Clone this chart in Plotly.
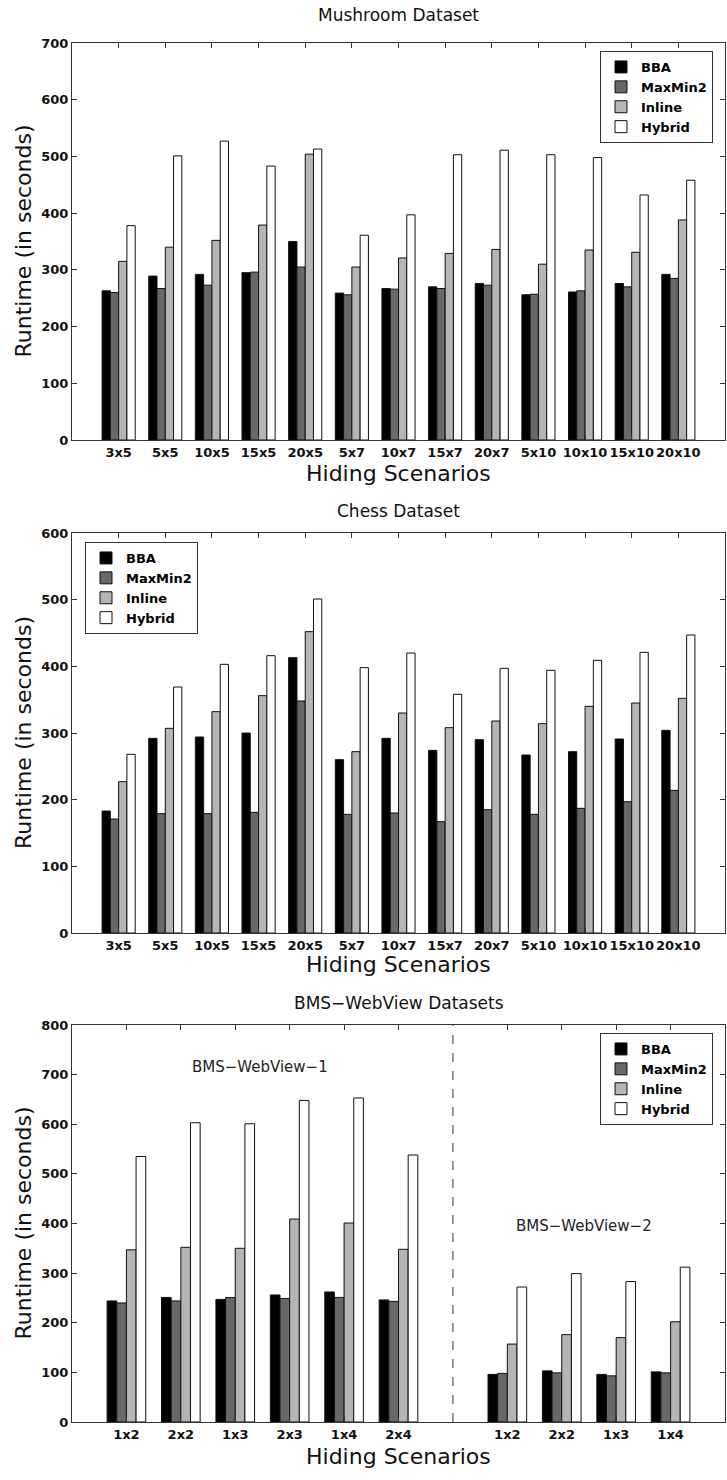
import plotly.graph_objects as go

# ---------------- data ----------------
series_names = ["BBA", "MaxMin2", "Inline", "Hybrid"]
series_colors = ["#000000", "#686868", "#b5b5b5", "#ffffff"]

mush_labels = ["3x5", "5x5", "10x5", "15x5", "20x5", "5x7", "10x7", "15x7", "20x7",
               "5x10", "10x10", "15x10", "20x10"]
mush_bba = [263, 289, 292, 295, 350, 259, 267, 270, 276, 256, 261, 276, 292]
mush_maxmin2 = [260, 267, 273, 296, 305, 256, 266, 267, 273, 257, 263, 270, 285]
mush_inline = [315, 340, 352, 379, 504, 305, 321, 329, 336, 310, 335, 331, 388]
mush_hybrid = [378, 501, 527, 483, 513, 361, 397, 503, 511, 503, 498, 432, 458]

chess_labels = ["3x5", "5x5", "10x5", "15x5", "20x5", "5x7", "10x7", "15x7", "20x7",
                "5x10", "10x10", "15x10", "20x10"]
chess_bba = [183, 292, 294, 300, 413, 260, 292, 274, 290, 267, 272, 291, 304]
chess_maxmin2 = [171, 179, 179, 181, 348, 178, 180, 167, 185, 178, 187, 197, 214]
chess_inline = [227, 307, 332, 356, 452, 272, 330, 308, 318, 314, 340, 345, 352]
chess_hybrid = [268, 369, 403, 416, 501, 398, 420, 358, 397, 394, 409, 421, 447]

bms1_labels = ["1x2", "2x2", "1x3", "2x3", "1x4", "2x4"]
bms1_bba = [244, 251, 247, 256, 262, 246]
bms1_maxmin2 = [240, 244, 251, 249, 251, 243]
bms1_inline = [347, 352, 350, 409, 401, 348]
bms1_hybrid = [535, 603, 601, 648, 653, 538]

bms2_labels = ["1x2", "2x2", "1x3", "1x4"]
bms2_bba = [96, 103, 96, 101]
bms2_maxmin2 = [98, 99, 93, 99]
bms2_inline = [157, 176, 170, 202]
bms2_hybrid = [272, 299, 283, 312]

mush_ticks = [0, 100, 200, 300, 400, 500, 600, 700]
chess_ticks = [0, 100, 200, 300, 400, 500, 600]
bms_ticks = [0, 100, 200, 300, 400, 500, 600, 700, 800]

# ---------------- geometry (pixels) ----------------
W, H = 727, 1480
PL, PR = 72, 725


def ydom(top, bottom):
    return [1 - bottom / H, 1 - top / H]


def px_y(y):
    return 1 - y / H


FONT = "DejaVu Sans"

fig = go.Figure()

# positions for the BMS chart (two groups separated by a gap)
bms1_pos = [i + 1 for i in range(len(bms1_labels))]
divider_pos = len(bms1_labels) + 1
bms2_pos = [divider_pos + 1 + i for i in range(len(bms2_labels))]
bms_pos = bms1_pos + bms2_pos
bms_labels = bms1_labels + bms2_labels

mush_series = [mush_bba, mush_maxmin2, mush_inline, mush_hybrid]
chess_series = [chess_bba, chess_maxmin2, chess_inline, chess_hybrid]
bms_series = [b1 + b2 for b1, b2 in zip([bms1_bba, bms1_maxmin2, bms1_inline, bms1_hybrid],
                                        [bms2_bba, bms2_maxmin2, bms2_inline, bms2_hybrid])]

for name, color, vals in zip(series_names, series_colors, mush_series):
    fig.add_trace(go.Bar(x=mush_labels, y=vals, name=name, marker_color=color,
                         marker_line_color="#111", marker_line_width=1,
                         xaxis="x", yaxis="y", legend="legend"))
for name, color, vals in zip(series_names, series_colors, chess_series):
    fig.add_trace(go.Bar(x=chess_labels, y=vals, name=name, marker_color=color,
                         marker_line_color="#111", marker_line_width=1,
                         xaxis="x2", yaxis="y2", legend="legend2"))
for name, color, vals in zip(series_names, series_colors, bms_series):
    fig.add_trace(go.Bar(x=bms_pos, y=vals, name=name, marker_color=color,
                         marker_line_color="#111", marker_line_width=1,
                         xaxis="x3", yaxis="y3", legend="legend3"))

axis_common = dict(showline=True, linecolor="#333", linewidth=1, mirror="ticks",
                   ticks="inside", ticklen=5, tickcolor="#333", showgrid=False,
                   zeroline=False, automargin=False,
                   tickfont=dict(family=FONT, size=13, color="#111", weight="bold"))

xdom = [PL / W, PR / W]
fig.update_layout(
    xaxis=dict(domain=xdom, anchor="y", range=[-1, len(mush_labels)], **axis_common),
    yaxis=dict(domain=ydom(43, 440), anchor="x", range=[0, mush_ticks[-1]],
               tickvals=mush_ticks, **axis_common),
    xaxis2=dict(domain=xdom, anchor="y2", range=[-1, len(chess_labels)], **axis_common),
    yaxis2=dict(domain=ydom(533, 933), anchor="x2", range=[0, chess_ticks[-1]],
                tickvals=chess_ticks, **axis_common),
    xaxis3=dict(domain=xdom, anchor="y3", range=[0, bms2_pos[-1] + 1],
                tickvals=bms_pos, ticktext=bms_labels, **axis_common),
    yaxis3=dict(domain=ydom(1025, 1422), anchor="x3", range=[0, bms_ticks[-1]],
                tickvals=bms_ticks, **axis_common),
)

fig.add_shape(type="line", xref="x3", yref="y3 domain", x0=divider_pos, x1=divider_pos,
              y0=0, y1=1, line=dict(color="#555", width=1.2, dash="dash"))

legend_common = dict(bgcolor="white", bordercolor="#333", borderwidth=1,
                     font=dict(family=FONT, size=13, color="#000", weight="bold"),
                     tracegroupgap=0, yanchor="top", traceorder="normal",
                     itemwidth=30)
fig.update_layout(
    legend=dict(x=713 / W, xanchor="right", y=px_y(51), **legend_common),
    legend2=dict(x=85 / W, xanchor="left", y=px_y(542), **legend_common),
    legend3=dict(x=713 / W, xanchor="right", y=px_y(1033), **legend_common),
)

ann = []
title_font = dict(family=FONT, size=17, color="#111")
axis_font = dict(family=FONT, size=22, color="#111")
xc = (PL + PR) / 2 / W
for txt, yy in [("Mushroom Dataset", 15), ("Chess Dataset", 511), ("BMS\u2212WebView Datasets", 1003)]:
    ann.append(dict(text=txt, x=xc, y=px_y(yy), xref="paper", yref="paper",
                    showarrow=False, font=title_font, xanchor="center", yanchor="middle"))
for yy in [473, 965, 1456]:
    ann.append(dict(text="Hiding Scenarios", x=xc, y=px_y(yy), xref="paper", yref="paper",
                    showarrow=False, font=axis_font, xanchor="center", yanchor="middle"))
for top, bottom in [(43, 440), (533, 933), (1025, 1422)]:
    ann.append(dict(text="Runtime (in seconds)", x=23 / W, y=px_y((top + bottom) / 2),
                    xref="paper", yref="paper", textangle=-90, showarrow=False,
                    font=axis_font, xanchor="center", yanchor="middle"))
ann.append(dict(text="BMS\u2212WebView\u22121", x=3.46, y=715, xref="x3", yref="y3",
                showarrow=False, font=dict(family=FONT, size=15, color="#222")))
ann.append(dict(text="BMS\u2212WebView\u22122", x=9.4, y=395, xref="x3", yref="y3",
                showarrow=False, font=dict(family=FONT, size=15, color="#222")))

fig.update_layout(
    annotations=ann,
    width=W, height=H,
    margin=dict(l=0, r=0, t=0, b=0),
    paper_bgcolor="white", plot_bgcolor="white",
    barmode="group", bargap=0.29, bargroupgap=0,
    font=dict(family=FONT),
)

fig.write_html("out.html",
               config={"displayModeBar": False},
               post_script="document.body.style.margin='0';"
                           "document.body.style.overflow='hidden';")
